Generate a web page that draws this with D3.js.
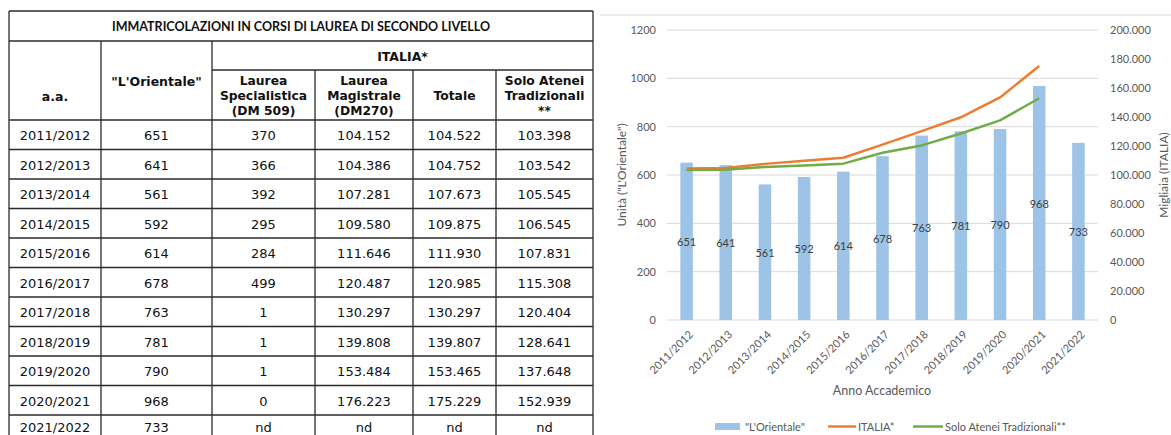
<!DOCTYPE html>
<html><head><meta charset="utf-8">
<script src="https://cdn.jsdelivr.net/npm/d3@7"></script>
<style>
html,body{margin:0;padding:0;background:#fff;}
svg{display:block;}
</style></head>
<body>
<svg id="c" width="1171" height="435"></svg>
<script>
// ---------- DATA ----------
const years = ["2011/2012","2012/2013","2013/2014","2014/2015","2015/2016","2016/2017","2017/2018","2018/2019","2019/2020","2020/2021","2021/2022"];
const orientale = [651,641,561,592,614,678,763,781,790,968,733];
const specialistica = [370,366,392,295,284,499,1,1,1,0,null];
const magistrale = [104152,104386,107281,109580,111646,120487,130297,139808,153484,176223,null];
const totale = [104522,104752,107673,109875,111930,120985,130297,139807,153465,175229,null];
const atenei = [103398,103542,105545,106545,107831,115308,120404,128641,137648,152939,null];
const leftTicks = [0,200,400,600,800,1000,1200];
const rightTicks = [0,20000,40000,60000,80000,100000,120000,140000,160000,180000,200000];
const tableTitle = "IMMATRICOLAZIONI IN CORSI DI LAUREA DI SECONDO LIVELLO";
const legendLabels = ["\"L'Orientale\"","ITALIA*","Solo Atenei Tradizionali**"];

const it = d3.formatLocale({decimal:",",thousands:".",grouping:[3],currency:["€",""]});
const fmt = it.format(",d");
const cell = v => v == null ? "nd" : fmt(v);

const svg = d3.select("#c");

// ---------- TABLE ----------
const tf = "'DejaVu Sans', Verdana, sans-serif";
const colX = [9,101,212,315,413,496,593];
const headY = [11,41,70,120];
const rowH = 29.5;
const rowsY = d3.range(years.length+1).map(i => 120 + i*rowH);
const tg = svg.append("g");
const lineC = "#2b2b2b";
function hline(x1,x2,y){tg.append("line").attr("x1",x1).attr("x2",x2).attr("y1",y).attr("y2",y).attr("stroke",lineC).attr("stroke-width",1.3);}
function vline(x,y1,y2){tg.append("line").attr("x1",x).attr("x2",x).attr("y1",y1).attr("y2",y2).attr("stroke",lineC).attr("stroke-width",1.3);}
hline(colX[0],colX[6],headY[0]);
hline(colX[0],colX[6],headY[1]);
hline(colX[2],colX[6],headY[2]);
rowsY.forEach(y=>hline(colX[0],colX[6],y));
vline(colX[0],headY[0],440); vline(colX[6],headY[0],440);
vline(colX[1],headY[1],440); vline(colX[2],headY[1],440);
[3,4,5].forEach(i=>vline(colX[i],headY[2],440));

function ttext(x,y,s,opt={}){
  return tg.append("text").attr("x",x).attr("y",y).attr("text-anchor","middle")
    .attr("dominant-baseline","central")
    .attr("font-family",opt.ff||tf).attr("font-size",opt.fs||12.5)
    .attr("font-weight",opt.fw||"normal").attr("fill","#111").text(s);
}
ttext((colX[0]+colX[6])/2,26,tableTitle,{ff:"Lato, sans-serif",fw:"bold",fs:12.5});
ttext((colX[0]+colX[1])/2,96,"a.a.",{fw:"bold"});
ttext((colX[1]+colX[2])/2,81,"\"L'Orientale\"",{fw:"bold"});
ttext((colX[2]+colX[6])/2,56,"ITALIA*",{fw:"bold"});
const subHeads = [["Laurea","Specialistica","(DM 509)"],["Laurea","Magistrale","(DM270)"],["Totale"],["Solo Atenei","Tradizionali","**"]];
subHeads.forEach((lines,j)=>{
  const cx=(colX[j+2]+colX[j+3])/2;
  const y0 = lines.length===1 ? 96 : 81;
  lines.forEach((l,k)=>ttext(cx,y0+k*15.2,l,{fw:"bold",fs:12.3}));
});
const cols = [years, orientale.map(cell), specialistica.map(cell), magistrale.map(cell), totale.map(cell), atenei.map(cell)];
years.forEach((y,i)=>{
  const last = i === years.length-1;
  cols.forEach((c,j)=>{
    ttext((colX[j]+colX[j+1])/2, last ? 427.5 : rowsY[i]+rowH/2+1, c[i],{fs:13});
  });
});

// ---------- CHART ----------
const cf = "Lato, 'Open Sans', sans-serif";
const gray = "#595959";
svg.append("line").attr("x1",600).attr("x2",1171).attr("y1",15).attr("y2",15).attr("stroke","#d9d9d9");
const x = d3.scaleBand().domain(years).range([667,1098]).paddingInner(0.68).paddingOuter(0.34);
const yL = d3.scaleLinear().domain([0,1200]).range([320,30]);
const yR = d3.scaleLinear().domain([0,200000]).range([320,30]);
const g = svg.append("g");

// gridlines
g.selectAll("line.grid").data(leftTicks).join("line").attr("class","grid")
  .attr("x1",667).attr("x2",1098).attr("y1",d=>yL(d)).attr("y2",d=>yL(d))
  .attr("stroke","#d9d9d9").attr("stroke-width",1);

// left axis
const axL = g.append("g").attr("transform","translate(667,0)")
  .call(d3.axisLeft(yL).tickValues(leftTicks).tickSize(0).tickPadding(11).tickFormat(d3.format("d")));
axL.select(".domain").remove();
axL.selectAll("text").attr("font-family",cf).attr("font-size",11).attr("fill",gray);

// right axis
const axR = g.append("g").attr("transform","translate(1098,0)")
  .call(d3.axisRight(yR).tickValues(rightTicks).tickSize(0).tickPadding(12).tickFormat(fmt));
axR.select(".domain").remove();
axR.selectAll("text").attr("font-family",cf).attr("font-size",11).attr("fill",gray);

// bottom axis
const axB = g.append("g").attr("transform","translate(0,320)")
  .call(d3.axisBottom(x).tickSize(0).tickPadding(0));
axB.select(".domain").remove();
axB.selectAll("text").attr("font-family",cf).attr("font-size",11).attr("fill",gray)
  .attr("text-anchor","end").attr("dy",null).attr("y",0)
  .attr("dominant-baseline","central")
  .attr("transform","translate(4,12) rotate(-45)");

// bars
g.selectAll("rect.bar").data(years).join("rect").attr("class","bar")
  .attr("x",d=>x(d)).attr("width",x.bandwidth())
  .attr("y",(d,i)=>yL(orientale[i])).attr("height",(d,i)=>yL(0)-yL(orientale[i]))
  .attr("fill","#9dc3e6");

// lines
const line = d3.line().defined(d=>d[1]!=null).x(d=>x(d[0])+x.bandwidth()/2).y(d=>yR(d[1]));
g.append("path").datum(years.map((y,i)=>[y,totale[i]])).attr("d",line)
  .attr("fill","none").attr("stroke","#ed7d31").attr("stroke-width",2.5).attr("stroke-linejoin","round");
g.append("path").datum(years.map((y,i)=>[y,atenei[i]])).attr("d",line)
  .attr("fill","none").attr("stroke","#70ad47").attr("stroke-width",2.5).attr("stroke-linejoin","round");

// bar labels
g.selectAll("text.lab").data(years).join("text").attr("class","lab")
  .attr("x",d=>x(d)+x.bandwidth()/2).attr("y",(d,i)=>yL(orientale[i]/2))
  .attr("text-anchor","middle").attr("dominant-baseline","central")
  .attr("font-family",cf).attr("font-size",11).attr("fill","#404040")
  .text((d,i)=>orientale[i]);

// axis titles
g.append("text").attr("x",882).attr("y",390).attr("text-anchor","middle").attr("dominant-baseline","central")
  .attr("font-family",cf).attr("font-size",12.5).attr("fill",gray).text("Anno Accademico");
g.append("text").attr("transform","translate(621,175) rotate(-90)").attr("text-anchor","middle").attr("dominant-baseline","central")
  .attr("font-family",cf).attr("font-size",12).attr("fill",gray).text("Unità (\"L'Orientale\")");
g.append("text").attr("transform","translate(1163,175) rotate(-90)").attr("text-anchor","middle").attr("dominant-baseline","central")
  .attr("font-family",cf).attr("font-size",12).attr("fill",gray).text("Migliaia (ITALIA)");

// legend
const lg = g.append("g");
const ly = 426.5;
lg.append("rect").attr("x",715).attr("y",ly-3.5).attr("width",25).attr("height",7).attr("fill","#9dc3e6");
lg.append("text").attr("x",745).attr("y",ly).attr("dominant-baseline","central").attr("font-family",cf).attr("font-size",11).attr("fill",gray).text(legendLabels[0]);
lg.append("line").attr("x1",828).attr("x2",856).attr("y1",ly).attr("y2",ly).attr("stroke","#ed7d31").attr("stroke-width",2.5);
lg.append("text").attr("x",858).attr("y",ly).attr("dominant-baseline","central").attr("font-family",cf).attr("font-size",11).attr("fill",gray).text(legendLabels[1]);
lg.append("line").attr("x1",913).attr("x2",943).attr("y1",ly).attr("y2",ly).attr("stroke","#70ad47").attr("stroke-width",2.5);
lg.append("text").attr("x",945).attr("y",ly).attr("dominant-baseline","central").attr("font-family",cf).attr("font-size",11).attr("fill",gray).text(legendLabels[2]);
</script>
</body></html>
